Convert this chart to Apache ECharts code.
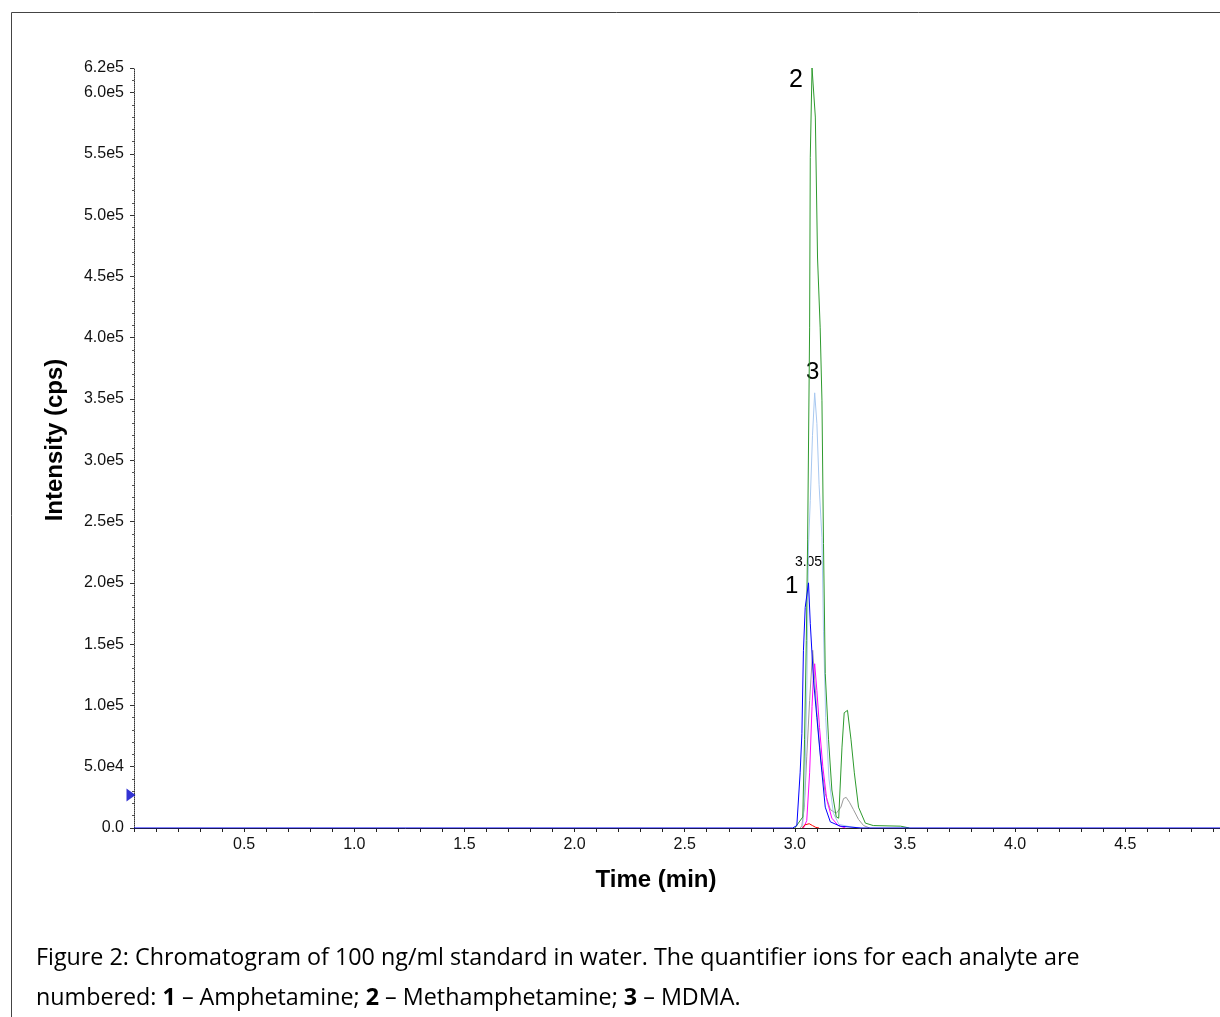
<!DOCTYPE html>
<html lang="en">
<head>
    <meta charset="UTF-8">
    <title>Chromatogram</title>
    <script src="https://cdn.jsdelivr.net/npm/echarts@6/dist/echarts.min.js"></script>
    <style>
        body { margin: 0; background: #fff; }
    </style>
</head>
<body>

<div id="main" style="width: 1220px;height:1017px;"></div>
<script type="text/javascript">

    // 1 - Amphetamine (blue)
    var amphTime = [0, 2.990, 3.009, 3.024, 3.032, 3.039, 3.047, 3.062, 3.070, 3.085, 3.100, 3.112, 3.123, 3.138, 3.161, 3.206, 3.300, 4.930];
    var amphInt  = [0, 0, 2000, 45000, 77000, 145000, 180000, 200000, 167000, 120000, 90000, 66000, 45000, 17000, 5000, 1500, 0, 0];

    // 2 - Methamphetamine (green)
    var methTime = [3.000, 3.036, 3.044, 3.052, 3.058, 3.067, 3.070, 3.078, 3.093, 3.103, 3.115, 3.123, 3.130, 3.138, 3.153, 3.168, 3.188, 3.199, 3.214, 3.224, 3.239, 3.255, 3.270, 3.289, 3.320, 3.356, 3.480, 3.520];
    var methInt  = [0, 9000, 72000, 153000, 235000, 408000, 547000, 620000, 580000, 465000, 408000, 349000, 232000, 126000, 72000, 31000, 9000, 8000, 66000, 94000, 96000, 72000, 45000, 17000, 4000, 2000, 1500, 0];

    // 3 - MDMA (light blue)
    var mdmaTime = [3.035, 3.045, 3.055, 3.062, 3.070, 3.080, 3.090, 3.100, 3.110, 3.123, 3.130, 3.140, 3.155, 3.175, 3.200, 3.250, 3.300];
    var mdmaInt  = [0, 30000, 120000, 230000, 267000, 320000, 355000, 330000, 280000, 237000, 160000, 90000, 40000, 12000, 3000, 1000, 0];

    // other transitions
    var magTime = [3.039, 3.054, 3.067, 3.078, 3.085, 3.090, 3.100, 3.112, 3.127, 3.145, 3.168, 3.197, 3.230];
    var magInt  = [0, 6000, 45000, 99000, 126000, 134000, 112000, 82000, 50000, 23000, 8000, 2000, 0];

    var grayTime = [3.025, 3.032, 3.043, 3.054, 3.067, 3.081, 3.100, 3.118, 3.138, 3.161, 3.188, 3.209, 3.221, 3.233, 3.248, 3.266, 3.289, 3.312, 3.340];
    var grayInt  = [0, 2000, 17000, 58000, 104000, 145000, 94000, 55000, 28000, 15000, 12000, 17000, 24000, 25000, 21000, 15000, 7000, 2000, 0];

    var redTime = [3.035, 3.045, 3.054, 3.065, 3.080, 3.095, 3.110];
    var redInt  = [0, 2500, 4000, 3500, 2000, 500, 0];

    // start marker on the intensity axis
    var markerPoint = [0, 27000];

    // peak annotations [time, intensity, text, size]
    var peakLabels = [
        [3.062, 217000, '3.05', 14],
        [2.986, 197000, '1', 24],
        [3.005, 610000, '2', 25],
        [3.081, 372000, '3', 24]
    ];

    function pairs(t, v) {
        return t.map(function (x, i) { return [x, v[i]]; });
    }

    function sci(v) {
        if (v === 0) return '0.0';
        var e = Math.floor(Math.log10(v) + 1e-9);
        var m = v / Math.pow(10, e);
        return m.toFixed(1) + 'e' + e;
    }

    function trace(name, t, v, color) {
        return {
            name: name,
            type: 'line',
            data: pairs(t, v),
            symbol: 'none',
            lineStyle: { color: color, width: 1 },
            silent: true
        };
    }

    var font = 'Arial, "Liberation Sans", sans-serif';

    var option = {
        animation: false,
        grid: { left: 134, right: 0, top: 68, bottom: 189 },
        xAxis: {
            type: 'value',
            min: 0,
            max: 4.93,
            interval: 0.1,
            splitLine: { show: false },
            axisLine: { lineStyle: { color: '#222', width: 1 } },
            axisTick: { length: 4, lineStyle: { color: '#222' } },
            axisLabel: {
                fontFamily: font, fontSize: 16, color: '#111', margin: 9,
                showMaxLabel: false,
                formatter: function (v) {
                    var r = Math.round(v * 10) / 10;
                    if (r > 0 && Math.abs(r * 2 - Math.round(r * 2)) < 1e-6 && Math.abs(v - 4.93) > 0.01) {
                        return r.toFixed(1);
                    }
                    return '';
                }
            }
        },
        yAxis: {
            type: 'value',
            min: 0,
            max: 620000,
            interval: 50000,
            splitLine: { show: false },
            axisLine: { show: true, lineStyle: { color: '#333', width: 1, type: 'dotted' } },
            axisTick: { length: 4, lineStyle: { color: '#333' } },
            minorTick: { show: true, splitNumber: 5, length: 2, lineStyle: { color: '#555' } },
            axisLabel: {
                fontFamily: font, fontSize: 16, color: '#111', margin: 10,
                formatter: sci
            }
        },
        series: [
            trace('gray', grayTime, grayInt, '#9a9a9a'),
            trace('magenta', magTime, magInt, '#ff00ff'),
            trace('MDMA', mdmaTime, mdmaInt, '#a8c8f0'),
            trace('Methamphetamine', methTime, methInt, '#2e9a2e'),
            trace('red', redTime, redInt, '#ff0000'),
            trace('Amphetamine', amphTime, amphInt, '#0000ff'),
            {
                type: 'scatter',
                data: [markerPoint],
                symbol: 'triangle',
                symbolRotate: -90,
                symbolSize: [13, 9],
                symbolOffset: [-3, 0],
                itemStyle: { color: '#0000c8' },
                clip: false,
                silent: true
            }
        ]
    };

    var myChart = echarts.init(document.getElementById('main'));
    myChart.setOption(option);

    // annotations + frame + axis titles + caption
    var graphics = [{
        type: 'rect',
        shape: { x: 11.5, y: 12.5, width: 1230, height: 1030 },
        style: { fill: 'none', stroke: '#444', lineWidth: 1 },
        silent: true
    }];
    peakLabels.forEach(function (p) {
        var px = myChart.convertToPixel({ gridIndex: 0 }, [p[0], p[1]]);
        graphics.push({
            type: 'text',
            x: px[0], y: px[1],
            style: {
                text: p[2], fontFamily: font, fontSize: p[3], fill: '#000',
                align: 'center', verticalAlign: 'middle'
            },
            silent: true
        });
    });
    graphics.push({
        type: 'text', x: 656, y: 880,
        style: {
            text: 'Time (min)', fontFamily: font, fontSize: 24, fontWeight: 'bold',
            fill: '#000', align: 'center', verticalAlign: 'middle'
        },
        silent: true
    });
    graphics.push({
        type: 'text', x: 55, y: 440, rotation: Math.PI / 2,
        style: {
            text: 'Intensity (cps)', fontFamily: font, fontSize: 24, fontWeight: 'bold',
            fill: '#000', align: 'center', verticalAlign: 'middle'
        },
        silent: true
    });
    var capFont = '"Open Sans", "Noto Sans", sans-serif';
    graphics.push({
        type: 'text', x: 36, y: 958,
        style: {
            text: 'Figure 2: Chromatogram of 100 ng/ml standard in water. The quantifier ions for each analyte are',
            fontFamily: capFont, fontSize: 23.3, fill: '#000', verticalAlign: 'middle'
        },
        silent: true
    });
    graphics.push({
        type: 'text', x: 36, y: 998,
        style: {
            text: 'numbered: {b|1} – Amphetamine; {b|2} – Methamphetamine; {b|3} – MDMA.',
            fontFamily: capFont, fontSize: 23.3, fill: '#000', verticalAlign: 'middle',
            rich: { b: { fontFamily: capFont, fontSize: 23.3, fontWeight: 'bold', fill: '#000' } }
        },
        silent: true
    });
    myChart.setOption({ graphic: graphics });

</script>

</body>
</html>
